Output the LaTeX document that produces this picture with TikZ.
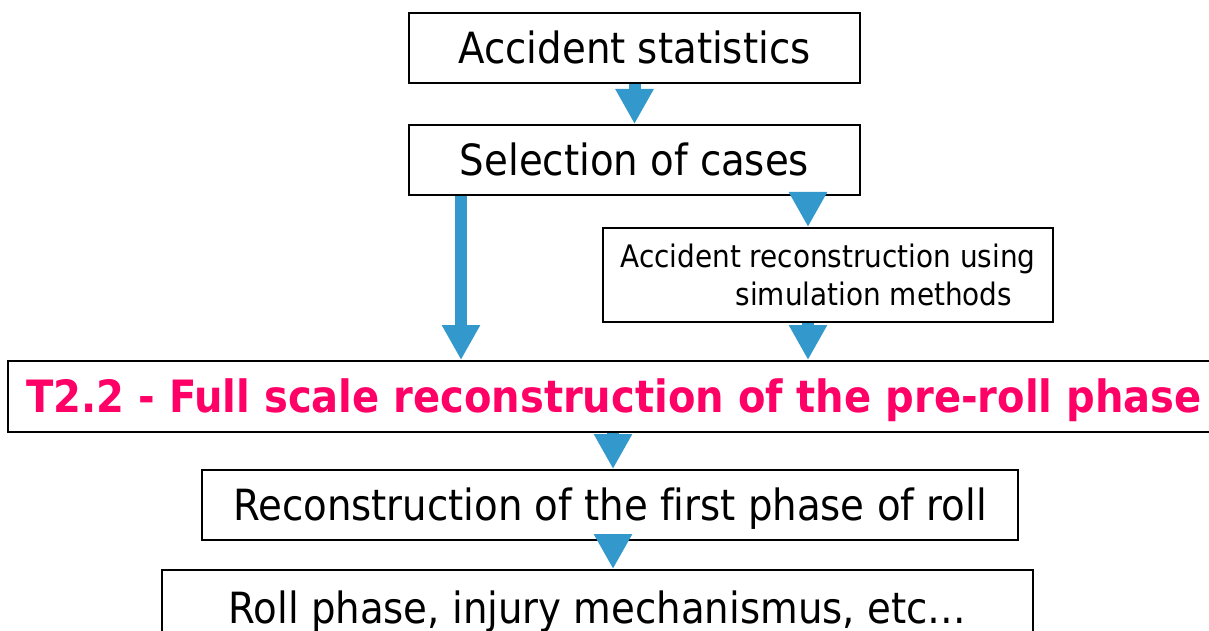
\documentclass[tikz,border=0pt]{standalone}
\usepackage{fontspec}
\setmainfont[Ligatures=NoCommon]{DejaVu Sans Condensed}
\usetikzlibrary{arrows.meta,positioning}
\definecolor{Flow}{HTML}{3399CC}
\definecolor{Title}{HTML}{FF0066}
\newcommand\bigtxt{\fontsize{43}{50}\selectfont}
\newcommand\smalltxt{\fontsize{31}{38}\selectfont}
\newcommand\titletxt{\fontsize{44.5}{52}\selectfont\bfseries}
\tikzset{
  box/.style={draw=black,fill=white,line width=2pt,inner sep=0pt,align=center,text height=31pt,text depth=0pt,font=\bigtxt},
  smallbox/.style={draw=black,fill=white,line width=2pt,inner sep=0pt,align=right,font=\smalltxt},
  titlebox/.style={box,text=Title,text height=32.5pt,font=\titletxt},
  flow/.style={-{Triangle[length=35pt,width=36pt]},draw=Flow,fill=Flow,line width=12pt}
}
\begin{document}
\begin{tikzpicture}[x=1pt,y=-1pt]
  \clip (0,0) rectangle (1209,631);
  \fill[white] (0,0) rectangle (1209,631);
  % boxes, top to bottom
  \node[box,minimum width=451pt,minimum height=70pt] (stats) at (634.5,48) {Accident statistics};
  \node[box,minimum width=451pt,minimum height=70pt] (cases) at (634.5,160) {Selection of cases};
  \node[smallbox,minimum width=450pt,minimum height=94pt] (recon) at (828,275) {Accident reconstruction using\\simulation methods\hspace*{.75em}};
  \node[titlebox,minimum width=1212pt,minimum height=71pt] (full) at (614,396.5) {T2.2 - Full scale reconstruction of the pre-roll phase};
  \node[box,minimum width=816pt,minimum height=70pt] (first) at (610,505) {Reconstruction of the first phase of roll};
  \node[box,minimum width=871pt,minimum height=76pt] (roll) at (597.5,608) {Roll phase, injury mechanismus, etc…};
  % arrow columns
  \coordinate (lx) at (461,0);
  \coordinate (rx) at (808,0);
  \coordinate (mx) at (613,0);
  \draw[flow] (stats) -- (cases);
  \draw[flow] (cases.south -| lx) -- (full.north -| lx);
  \draw[flow] (cases.south -| rx) -- (recon.north -| rx);
  \draw[flow] (recon.south -| rx) -- (full.north -| rx);
  \draw[flow] (full.south -| mx) -- (first.north -| mx);
  \draw[flow] (first.south -| mx) -- (roll.north -| mx);
\end{tikzpicture}
\end{document}
